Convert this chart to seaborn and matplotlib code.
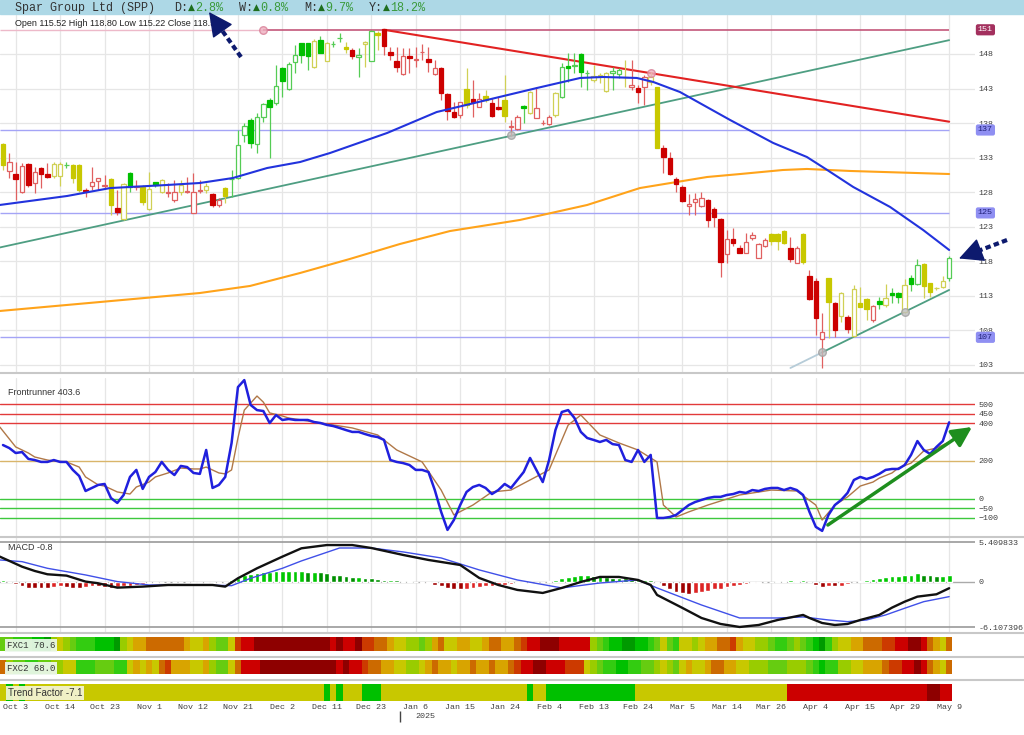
import numpy as np
import matplotlib
matplotlib.use('Agg')
import matplotlib.pyplot as plt
import seaborn as sns
from matplotlib.colors import ListedColormap
from matplotlib.patches import Rectangle
import matplotlib.transforms as mtransforms

# ---------------- DATA ----------------
date_labels = ['Oct 3', 'Oct 14', 'Oct 23', 'Nov 1', 'Nov 12', 'Nov 21', 'Dec 2', 'Dec 11',
               'Dec 23', 'Jan 6', 'Jan 15', 'Jan 24', 'Feb 4', 'Feb 13', 'Feb 24', 'Mar 5',
               'Mar 14', 'Mar 26', 'Apr 4', 'Apr 15', 'Apr 29', 'May 9']
date_label_bars = [2, 9, 16, 23, 30, 37, 44, 51, 58, 65, 72, 79, 86, 93, 100, 107, 114, 121, 128, 135, 142, 149]
year_break_bar = 62.5

open_ = [134.97, 131.12, 130.59, 128.08, 132.03, 129.28, 131.45, 130.63, 130.34, 130.34,
         131.90, 131.94, 131.94, 128.30, 128.94, 129.67, 128.94, 129.86, 125.66, 124.07,
         130.83, 128.80, 128.80, 125.52, 129.43, 128.08, 127.93, 126.87, 128.08, 128.08,
         125.04, 128.22, 128.32, 127.74, 126.15, 128.66, 129.86, 130.01, 136.28, 138.45,
         135.00, 138.93, 141.34, 140.86, 145.93, 142.93, 146.89, 149.54, 149.54, 146.07,
         150.03, 147.03, 149.40, 150.25, 148.96, 148.58, 147.52, 149.45, 147.03, 150.99,
         151.57, 148.34, 147.03, 145.11, 147.71, 147.13, 148.24, 147.28, 145.11, 145.93,
         142.21, 139.65, 139.17, 142.93, 141.44, 140.38, 141.92, 140.96, 140.38, 141.34,
         137.48, 137.10, 140.52, 139.51, 138.79, 137.97, 137.82, 139.17, 141.73, 146.31,
         146.26, 148.00, 145.20, 144.24, 144.82, 142.69, 145.20, 145.11, 144.62, 143.18,
         143.03, 143.18, 143.99, 143.27, 134.35, 132.90, 129.91, 128.80, 125.99, 126.63,
         126.00, 126.87, 125.52, 124.12, 119.02, 121.18, 119.97, 119.25, 121.33, 118.53,
         120.22, 121.90, 121.90, 122.43, 119.97, 117.80, 121.90, 115.92, 115.20, 106.71,
         115.54, 111.92, 110.13, 109.99, 107.19, 112.02, 112.50, 109.51, 112.26, 111.68,
         113.46, 113.46, 110.71, 115.54, 114.72, 117.61, 114.81, 114.09, 114.24, 115.52]
close_ = [131.94, 132.42, 129.86, 131.79, 129.04, 130.88, 130.59, 130.25, 132.08, 132.08,
          131.95, 130.01, 128.32, 128.20, 129.52, 130.01, 128.94, 126.15, 125.18, 129.14,
          128.80, 128.82, 126.63, 128.41, 129.04, 129.77, 127.95, 128.08, 129.04, 128.10,
          128.08, 128.24, 128.90, 126.15, 126.87, 127.50, 129.88, 134.83, 137.58, 135.17,
          138.93, 140.76, 140.28, 143.42, 144.14, 146.50, 147.86, 147.86, 147.71, 149.93,
          148.19, 149.64, 149.50, 150.30, 148.68, 147.76, 147.90, 149.78, 151.38, 150.80,
          149.21, 147.86, 146.07, 147.71, 147.42, 147.15, 148.26, 146.79, 145.93, 142.31,
          139.80, 138.93, 141.01, 140.62, 141.10, 141.49, 141.34, 139.08, 140.09, 139.03,
          137.50, 138.93, 140.23, 142.55, 140.14, 137.99, 138.83, 142.40, 146.17, 146.02,
          146.28, 145.35, 145.22, 144.82, 144.84, 145.30, 145.54, 145.68, 144.64, 143.51,
          142.55, 144.62, 144.72, 134.44, 133.05, 130.64, 129.19, 126.73, 126.24, 126.97,
          127.10, 123.98, 124.46, 117.85, 121.18, 120.60, 119.25, 120.75, 121.81, 120.46,
          121.08, 120.94, 120.94, 120.70, 118.29, 119.88, 117.95, 112.55, 109.75, 107.82,
          112.16, 108.06, 113.37, 108.20, 113.94, 111.44, 111.05, 111.53, 111.82, 112.64,
          113.13, 112.79, 114.57, 114.72, 117.47, 114.43, 113.61, 114.10, 115.20, 118.50]
high_ = [135.07, 133.62, 132.42, 132.18, 132.18, 131.70, 131.70, 132.18, 132.42, 132.42,
         132.42, 132.08, 132.08, 128.56, 131.70, 130.01, 130.49, 130.01, 128.32, 129.28,
         130.97, 129.77, 129.04, 130.97, 129.52, 129.86, 129.28, 129.77, 129.77, 130.25,
         130.83, 129.77, 129.28, 127.84, 127.10, 128.80, 131.20, 137.00, 137.97, 138.69,
         139.41, 140.86, 141.58, 146.41, 146.17, 146.89, 149.30, 149.64, 149.64, 150.12,
         150.60, 149.70, 149.90, 151.09, 149.78, 148.82, 148.82, 149.93, 151.47, 151.38,
         151.57, 149.06, 149.06, 148.82, 148.82, 149.06, 149.45, 149.06, 147.13, 146.17,
         142.31, 141.10, 141.10, 145.93, 144.24, 142.31, 142.79, 141.58, 141.82, 144.96,
         138.45, 139.17, 140.62, 142.69, 143.27, 138.45, 139.17, 142.55, 146.65, 148.10,
         148.10, 148.10, 145.68, 146.41, 145.20, 145.44, 146.17, 145.93, 147.13, 147.13,
         143.51, 144.96, 145.44, 143.27, 134.83, 133.87, 130.15, 129.04, 127.74, 127.84,
         128.08, 126.97, 125.81, 124.22, 122.53, 122.77, 120.36, 122.05, 122.19, 120.70,
         121.33, 122.05, 122.05, 122.53, 121.47, 120.22, 122.05, 116.74, 115.54, 110.57,
         115.63, 112.16, 113.61, 110.23, 114.57, 114.33, 112.64, 111.68, 112.88, 114.72,
         114.09, 113.61, 115.39, 116.02, 118.29, 117.71, 114.91, 114.33, 115.88, 118.80]
low_ = [131.20, 130.01, 126.87, 127.84, 128.80, 127.93, 128.56, 130.01, 130.01, 128.94,
        131.45, 129.28, 128.08, 127.35, 128.32, 128.32, 128.56, 124.70, 124.70, 123.98,
        128.08, 128.32, 126.15, 125.42, 128.80, 127.93, 127.35, 126.63, 127.60, 127.84,
        124.94, 127.84, 127.84, 125.91, 125.91, 126.39, 127.35, 129.86, 135.31, 134.35,
        133.62, 138.21, 132.90, 140.62, 141.82, 142.79, 145.20, 146.75, 145.68, 145.93,
        148.10, 147.03, 149.06, 149.78, 148.10, 147.23, 144.72, 146.17, 147.03, 148.58,
        147.86, 147.13, 145.44, 144.96, 145.20, 146.17, 147.13, 145.44, 144.96, 141.34,
        138.45, 138.69, 138.69, 140.14, 138.93, 140.28, 141.10, 138.93, 139.90, 138.21,
        136.13, 137.00, 137.97, 139.32, 138.69, 137.72, 137.72, 138.93, 141.58, 143.99,
        145.20, 143.27, 142.79, 143.99, 143.75, 142.55, 142.79, 144.48, 143.27, 142.79,
        140.86, 140.62, 143.51, 134.35, 130.73, 130.49, 128.08, 126.63, 124.70, 124.70,
        125.81, 122.92, 123.02, 115.78, 117.80, 120.22, 119.15, 119.15, 121.08, 118.43,
        120.02, 120.36, 119.64, 120.50, 117.95, 117.70, 117.56, 112.40, 107.34, 102.51,
        106.85, 107.09, 109.27, 107.58, 107.00, 111.34, 109.51, 109.27, 111.05, 111.44,
        111.92, 112.02, 110.57, 113.75, 114.57, 112.64, 112.88, 113.85, 114.09, 115.22]
candle_trend = list("yrrrrrrryy" "gyyrrrryry" "gryygyrryr" "rryrrygggg" "gggggggggy"
                    "gyggyrgygy" "rrrrrrrrrr" "rrryrryrry" "rrgyrrrygg" "gggyyyggyr"
                    "rryyrrrrrr" "rrrrrrrrrr" "ryyyrryrrr" "yryryyyrgy" "ggyggyyyyg")

ma_blue_x = [-0.5, 10.1, 16.9, 25.8, 31, 36.2, 41.6, 46.8, 51.5, 60.5, 68.3, 76.2, 84.1, 90.9,
             94.5, 99.8, 102.4, 106.6, 114.5, 121.3, 126.6, 129.8, 133.9, 139.7, 144.9, 149]
ma_blue_y = [126.15, 127.45, 128.6, 129.04, 129.33, 130.05, 131.5, 132.37, 133.67, 136.57, 139.6,
             141.34, 143.08, 144.53, 144.67, 144.53, 143.95, 142.5, 138.45, 135.12, 133.09, 131.21,
             128.75, 125.86, 122.53, 119.64]
ma_orange_x = [-0.5, 15.3, 31, 38.9, 46.8, 54.6, 62.5, 70.4, 81.4, 92, 100.3, 110.9, 116.1, 122.8,
               126.6, 133.4, 149]
ma_orange_y = [110.81, 112.11, 113.41, 114.43, 116.31, 118.33, 120.5, 122.38, 123.98, 126.15,
               128.6, 130.2, 130.63, 131.21, 131.36, 131.07, 130.63]

trend_red_x, trend_red_y = [60, 149], [151.5, 138.2]
trend_green_x, trend_green_y = [-0.5, 149], [120.0, 150.0]
trend_short_pale_x, trend_short_pale_y = [124, 129], [102.56, 104.82]
trend_short_x, trend_short_y = [129, 149], [104.82, 113.85]
levels = [151.5, 137.0, 125.0, 107.0]
level_labels = ['151', '137', '125', '107']
pivot_gray_x, pivot_gray_y = [80, 129, 142], [136.28, 104.87, 110.66]
pivot_pink_x, pivot_pink_y = [41, 102], [151.5, 145.25]
price_ticks = [103, 108, 113, 118, 123, 128, 133, 138, 143, 148]

fr_blue = [284, 268, 242, 247, 211, 205, 195, 195, 205, 195,
           195, 153, 121, 42, 58, 74, 79, 5, -21, 21,
           116, 153, 53, 116, 142, 195, 153, 126, 174, 168,
           137, 132, 258, 58, 74, 116, 295, 589, 626, 495,
           468, 463, 400, 442, 416, 421, 416, 416, 416, 405,
           400, 390, 384, 374, 363, 353, 353, 342, 332, 326,
           311, 205, 195, 189, 179, 153, 153, 142, 47, -68,
           -163, -111, -32, 37, 63, 74, 58, 26, 47, 79,
           58, 100, 142, 216, 153, 89, 205, 363, 458, 468,
           426, 353, 321, 311, 300, 311, 289, 284, 205, 195,
           258, 195, 232, -100, -100, -95, -84, -58, -32, -16,
           -5, 5, 11, 11, 21, 26, 37, 32, 47, 42,
           53, 58, 58, 47, 58, 47, 21, -68, -147, -168,
           -84, -32, -5, 32, 100, 116, 105, 116, 132, 153,
           158, 158, 179, 232, 305, 258, 237, 274, 305, 403.6]
fr_sig_x = [-0.5, 2, 4, 5, 7, 8, 10, 12, 13, 15, 16, 18, 20, 21, 23, 24, 26, 28, 30, 31, 32, 34, 35,
            36, 37, 38, 40, 41, 42, 44, 45, 47, 50, 55, 59, 62, 66, 69, 71, 74, 77, 80, 83, 86, 89,
            91, 94, 97, 100, 103, 104, 106, 108, 111, 116, 121, 125, 128, 129, 131, 133, 135, 137,
            138, 140, 141, 143, 144, 145, 147, 149]
fr_sig_y = [379, 274, 242, 221, 205, 200, 195, 168, 116, 74, 68, 37, 26, 63, 89, 116, 137, 163, 158,
            158, 168, 137, 132, 153, 321, 468, 542, 510, 453, 437, 426, 416, 400, 374, 337, 258, 195,
            47, -84, -32, 37, 47, 100, 153, 389, 442, 337, 295, 258, 195, -32, -95, -68, -32, 21, 47,
            42, -32, -111, -32, 11, 68, 89, 110, 137, 163, 189, 221, 253, 268, 300]
fr_levels = [500, 450, 400, 200, 0, -50, -100]
fr_level_colors = ['#E23A3A', '#E23A3A', '#E23A3A', '#D9B56A', '#3DC83D', '#3DC83D', '#3DC83D']
fr_tick_labels = ['500', '450', '400', '200', '0', '\u221250', '\u2212100']
fr_arrow_x, fr_arrow_y = [129.9, 152.6], [-137, 379]

macd_x = [-0.5, 1, 3, 5, 7, 10, 13, 15, 18, 22, 26, 33, 35, 37, 40, 44, 47, 51, 55, 58, 63, 67, 72,
          75, 78, 81, 85, 88, 91, 94, 97, 100, 102, 103, 107, 110, 113, 116, 119, 122, 126, 127,
          129, 131, 133, 135, 138, 140, 142, 144, 147, 149]
macd_y = [3.43, 2.85, 2.07, 1.49, 1.04, 0.86, 0.05, -0.18, -0.77, -0.63, -0.41, -0.41, -0.63, 0.5,
          1.85, 3.43, 4.56, 5.0, 5.0, 4.6, 3.66, 2.98, 2.3, 0.54, -0.41, -1.08, -1.49, -0.81, 0.0,
          0.68, 0.68, 0.27, -0.41, -1.76, -3.52, -4.88, -5.69, -6.1, -5.83, -5.15, -4.47, -4.88,
          -5.56, -5.83, -5.69, -5.15, -4.47, -3.48, -2.67, -1.99, -1.67, -0.85]
signal_x = [-0.5, 3, 7, 13, 18, 23, 31, 36, 39, 44, 47, 53, 58, 63, 69, 75, 81, 88, 94, 100, 103,
            110, 116, 122, 126, 130, 133, 136, 139, 142, 145, 149]
signal_y = [2.98, 2.75, 1.85, 0.95, 0.05, -0.41, -0.41, -0.5, 0.5, 1.85, 2.85, 4.6, 4.6, 4.07, 3.25,
            1.63, 0.27, -0.81, -0.14, 0.27, -0.81, -3.12, -4.88, -4.88, -4.74, -5.15, -5.38, -5.15,
            -4.47, -3.56, -2.67, -1.99]
macd_hist = [0.3, 0.0, -0.3, -0.5, -0.8, -0.8, -0.8, -0.8, -0.7, -0.6,
             -0.7, -0.8, -0.8, -0.7, -0.6, -0.6, -0.7, -0.8, -0.7, -0.6,
             -0.5, -0.4, -0.3, -0.2, -0.1, -0.05, -0.05, -0.05, -0.05, -0.05,
             -0.1, -0.15, -0.2, -0.2, -0.15, -0.05, 0.3, 0.6, 0.9, 1.1,
             1.2, 1.3, 1.4, 1.5, 1.5, 1.5, 1.5, 1.5, 1.4, 1.4,
             1.3, 1.2, 1.0, 0.9, 0.8, 0.7, 0.7, 0.6, 0.5, 0.4,
             0.3, 0.3, 0.2, 0.15, 0.1, 0.05, -0.1, -0.2, -0.4, -0.6,
             -0.8, -0.9, -1.0, -0.9, -0.8, -0.7, -0.6, -0.5, -0.4, -0.35,
             -0.3, -0.2, -0.15, -0.1, -0.05, 0.0, 0.1, 0.3, 0.5, 0.7,
             0.8, 0.9, 0.9, 0.8, 0.8, 0.7, 0.6, 0.6, 0.5, 0.4,
             0.3, 0.3, 0.2, -0.2, -0.6, -1.0, -1.3, -1.5, -1.6, -1.5,
             -1.4, -1.2, -1.0, -0.9, -0.7, -0.5, -0.4, -0.3, -0.2, -0.1,
             -0.05, 0.05, 0.1, 0.15, 0.2, 0.15, 0.2, 0.0, -0.4, -0.7,
             -0.5, -0.6, -0.5, -0.3, 0.0, 0.15, 0.3, 0.45, 0.55, 0.7,
             0.85, 0.85, 0.9, 1.0, 1.2, 1.0, 0.9, 0.85, 0.85, 0.9]
macd_ticks = [5.409833, 0, -6.107396]
macd_tick_labels = ['5.409833', '0', '-6.107396']

# strip levels: 0 dark green ... 5 yellow ... 10 dark red
fxc1 = [3, 3, 2, 2, 2, 1, 1, 0, 4, 5,
        4, 3, 2, 2, 2, 1, 1, 1, 0, 4,
        5, 6, 6, 7, 7, 7, 7, 7, 7, 6,
        5, 5, 6, 4, 3, 3, 5, 8, 9, 9,
        10, 10, 10, 10, 10, 10, 10, 10, 10, 10,
        10, 10, 9, 10, 9, 9, 10, 8, 8, 7,
        7, 6, 5, 5, 4, 4, 3, 4, 6, 7,
        5, 5, 6, 6, 5, 5, 6, 7, 7, 6,
        6, 7, 8, 9, 9, 10, 10, 10, 9, 9,
        9, 9, 9, 4, 3, 2, 1, 1, 0, 0,
        1, 1, 2, 3, 5, 3, 2, 5, 5, 4,
        5, 6, 6, 7, 7, 8, 6, 5, 5, 4,
        4, 3, 2, 2, 3, 4, 3, 2, 1, 0,
        2, 4, 5, 5, 6, 6, 7, 7, 7, 8,
        8, 9, 9, 10, 10, 9, 7, 6, 5, 7]
fxc2 = [7, 4, 3, 3, 2, 2, 3, 3, 4, 4,
        5, 5, 2, 2, 2, 3, 3, 3, 2, 2,
        5, 6, 5, 6, 5, 7, 8, 6, 6, 6,
        5, 5, 6, 4, 3, 3, 5, 7, 9, 9,
        9, 10, 10, 10, 10, 10, 10, 10, 10, 10,
        10, 10, 10, 9, 10, 9, 9, 8, 7, 7,
        6, 6, 5, 5, 4, 4, 5, 6, 7, 6,
        6, 5, 6, 6, 7, 6, 6, 7, 6, 6,
        7, 8, 9, 9, 10, 10, 9, 9, 9, 8,
        8, 8, 5, 4, 3, 2, 2, 1, 1, 2,
        2, 3, 3, 4, 5, 4, 3, 5, 6, 5,
        5, 6, 7, 7, 6, 6, 5, 5, 4, 4,
        4, 3, 3, 3, 4, 4, 4, 3, 2, 1,
        2, 2, 4, 4, 5, 5, 6, 6, 6, 7,
        8, 8, 9, 9, 10, 9, 7, 6, 5, 7]
trend_factor = [5, 1, 5, 1, 5, 5, 5, 5, 5, 5,
                5, 5, 5, 5, 5, 5, 5, 5, 5, 5,
                5, 5, 5, 5, 5, 5, 5, 5, 5, 5,
                5, 5, 5, 5, 5, 5, 5, 5, 5, 5,
                5, 5, 5, 5, 5, 5, 5, 5, 5, 5,
                5, 1, 5, 1, 5, 5, 5, 1, 1, 1,
                5, 5, 5, 5, 5, 5, 5, 5, 5, 5,
                5, 5, 5, 5, 5, 5, 5, 5, 5, 5,
                5, 5, 5, 1, 5, 5, 1, 1, 1, 1,
                1, 1, 1, 1, 1, 1, 1, 1, 1, 1,
                5, 5, 5, 5, 5, 5, 5, 5, 5, 5,
                5, 5, 5, 5, 5, 5, 5, 5, 5, 5,
                5, 5, 5, 5, 9, 9, 9, 9, 9, 9,
                9, 9, 9, 9, 9, 9, 9, 9, 9, 9,
                9, 9, 9, 9, 9, 9, 10, 10, 9, 9]
strip_palette = ['#009A00', '#00C000', '#33CC11', '#66CC11', '#99CC00', '#C8C800',
                 '#D8A400', '#CC6A00', '#CC3A00', '#CC0000', '#8E0000']

title_name = 'Spar Group Ltd (SPP)'
period_labels = ['D:', 'W:', 'M:', 'Y:']
period_changes = ['2.8%', '0.8%', '9.7%', '18.2%']
ohlc_text = 'Open 115.52  High 118.80  Low 115.22  Close 118.50'

# ---------------- STYLE / LAYOUT ----------------
sns.set_style('white')
plt.rcParams['font.family'] = ['Liberation Sans', 'DejaVu Sans']
MONO = ['Liberation Mono', 'DejaVu Sans Mono']
TXT = '#404040'
W, H = 1024, 735
XL = (-0.47, 153.07)

fig = plt.figure(figsize=(10.24, 7.35), dpi=100)
fig.patch.set_facecolor('white')


def add_px(top, bottom, left=0, right=975):
    return fig.add_axes([left / W, 1 - bottom / H, (right - left) / W, (bottom - top) / H])


ax = add_px(15, 372)
axf = add_px(378, 536)
axm = add_px(537, 632)
ax1 = add_px(637, 651)
ax2 = add_px(660, 674)
ax3 = add_px(684, 701)

for a in [ax, axf, axm, ax1, ax2, ax3]:
    a.set_xlim(*XL)
    for s in a.spines.values():
        s.set_visible(False)
    a.set_facecolor('white')

for a in [ax, axf, axm]:
    a.set_xticks(date_label_bars)
    a.tick_params(axis='x', length=0, labelbottom=False)
    a.xaxis.grid(True, color='#E6E6E6', lw=0.9)
    a.set_axisbelow(True)
    a.yaxis.tick_right()
    a.tick_params(axis='y', length=0, pad=2.5, labelsize=6, labelcolor=TXT)

# ---------------- MAIN PRICE PANEL ----------------
ax.set_ylim(101.98, 153.64)
ax.set_yticks(price_ticks)
ax.set_yticklabels([str(t) for t in price_ticks], family=MONO)
ax.yaxis.grid(True, color='#E6E6E6', lw=0.9)

idx = np.arange(len(open_))
o = np.array(open_); c = np.array(close_); hi = np.array(high_); lo = np.array(low_)
FILL = {'g': '#00BF00', 'y': '#C8C800', 'r': '#CC0000'}
LINE = {'g': '#55CC55', 'y': '#D0D055', 'r': '#E06060'}
up = c >= o
faces = ['white' if u else FILL[t] for u, t in zip(up, candle_trend)]
edges = [LINE[t] if u else FILL[t] for u, t in zip(up, candle_trend)]
wicks = [LINE[t] for t in candle_trend]

ax.hlines(levels[0], -0.47, 41, color='#EDB9C9', lw=1.0, zorder=1.5)
ax.hlines(levels[0], 41, 149, color='#C4577A', lw=1.2, zorder=1.5)
for lv in levels[1:]:
    ax.hlines(lv, -0.47, 149, color='#A4A4F6', lw=1.0, zorder=1.5)

sns.lineplot(x=ma_orange_x, y=ma_orange_y, ax=ax, color='#FFA31A', lw=1.5, legend=False, zorder=2)
sns.lineplot(x=trend_green_x, y=trend_green_y, ax=ax, color='#4E9E82', lw=1.3, legend=False, zorder=2)
sns.lineplot(x=trend_short_pale_x, y=trend_short_pale_y, ax=ax, color='#B6CCD8', lw=1.3, legend=False, zorder=2)
sns.lineplot(x=trend_short_x, y=trend_short_y, ax=ax, color='#4E9E82', lw=1.3, legend=False, zorder=2)
sns.lineplot(x=trend_red_x, y=trend_red_y, ax=ax, color='#E22222', lw=1.5, legend=False, zorder=2)

ax.vlines(idx, lo, hi, colors=wicks, lw=0.9, zorder=3)
ax.bar(idx, np.maximum(np.abs(c - o), 0.08), bottom=np.minimum(o, c), width=0.7,
       color=faces, edgecolor=edges, linewidth=0.9, zorder=4)

sns.lineplot(x=ma_blue_x, y=ma_blue_y, ax=ax, color='#2233DD', lw=1.5, legend=False, zorder=5)

ax.scatter(pivot_gray_x, pivot_gray_y, s=30, color='#BDBDBD', edgecolor='#A0A0A0', alpha=0.8, zorder=6)
ax.scatter(pivot_pink_x, pivot_pink_y, s=30, color='#EEB0C0', edgecolor='#D88098', alpha=0.8, zorder=6)

btrans = mtransforms.blended_transform_factory(ax.transAxes, ax.transData)
for lv, lab in zip(levels, level_labels):
    dark = lab == '151'
    ax.text(1.003, lv, lab, transform=btrans, ha='left', va='center', family=MONO, fontsize=6,
            color='white' if dark else '#22227A', zorder=10,
            bbox=dict(boxstyle='round,pad=0.25', fc='#A3305E' if dark else '#8F8FF2', ec='none'))
ax.set_xlabel(''); ax.set_ylabel('')

# ---------------- FRONTRUNNER PANEL ----------------
axf.set_ylim(-195, 637)
axf.set_yticks(fr_levels)
axf.set_yticklabels(fr_tick_labels, family=MONO)
for lv, col in zip(fr_levels, fr_level_colors):
    axf.axhline(lv, color=col, lw=1.0, zorder=1)
sns.lineplot(x=fr_sig_x, y=fr_sig_y, ax=axf, color='#B07848', lw=1.0, legend=False, zorder=3)
sns.lineplot(x=idx, y=fr_blue, ax=axf, color='#2020DD', lw=1.8, legend=False, zorder=4)
axf.annotate('', xy=(fr_arrow_x[1], fr_arrow_y[1]), xytext=(fr_arrow_x[0], fr_arrow_y[0]),
             arrowprops=dict(arrowstyle='-|>,head_length=0.6,head_width=0.3', color='#1E8E1E',
                             lw=2.5, mutation_scale=20, shrinkA=0, shrinkB=0),
             annotation_clip=False, zorder=6)
axf.set_xlabel(''); axf.set_ylabel('')

# ---------------- MACD PANEL ----------------
axm.set_ylim(-6.78, 6.09)
axm.set_yticks(macd_ticks)
axm.set_yticklabels(macd_tick_labels, family=MONO)
axm.axhline(macd_ticks[0], color='#9A9A9A', lw=1.2, zorder=1)
axm.axhline(0, color='#AAAAAA', lw=1.0, zorder=1)
axm.axhline(macd_ticks[2], color='#9A9A9A', lw=1.2, zorder=1)
hist = np.array(macd_hist)
prev = np.concatenate([[0.0], hist[:-1]])
hcols = []
for v, p in zip(hist, prev):
    if v >= 0:
        hcols.append('#00C800' if v >= p else '#009000')
    else:
        hcols.append('#A00000' if v <= p else '#DD2525')
axm.bar(idx, hist, width=0.75, color=hcols, zorder=2)
sns.lineplot(x=signal_x, y=signal_y, ax=axm, color='#4050E8', lw=1.0, legend=False, zorder=3)
sns.lineplot(x=macd_x, y=macd_y, ax=axm, color='#111111', lw=1.7, legend=False, zorder=4)
axm.set_xlabel(''); axm.set_ylabel('')

# ---------------- STRIPS ----------------
cmap = ListedColormap(strip_palette)
xedges = np.arange(len(fxc1) + 1) - 0.5
for a, lv in [(ax1, fxc1), (ax2, fxc2), (ax3, trend_factor)]:
    a.pcolormesh(xedges, [0, 1], np.array([lv]), cmap=cmap, vmin=-0.5, vmax=10.5, shading='flat')
    a.set_ylim(0, 1)
    a.set_yticks([])
    a.set_xticks([])
ax3.set_xticks(date_label_bars)
ax3.set_xticklabels(date_labels, family=MONO, fontsize=6, color=TXT)
ax3.tick_params(axis='x', length=0, pad=2)

# ---------------- OVERLAY (title bar, labels, arrows) ----------------
ov = fig.add_axes([0, 0, 1, 1], zorder=20)
ov.set_xlim(0, W); ov.set_ylim(H, 0); ov.axis('off'); ov.patch.set_alpha(0)
ov.add_patch(Rectangle((0, 0), W, 14, color='#ADD8E6', zorder=1))
ov.text(15, 7.5, title_name, family=MONO, fontsize=8.5, color='#333333', va='center', ha='left')
for xp, lab, chg in zip([174, 239, 304, 369], period_labels, period_changes):
    ov.text(xp, 7.5, lab, family=MONO, fontsize=8.5, color='#333333', va='center', ha='left')
    ov.text(xp + 14, 7.5, '\u25b2', family=['DejaVu Sans'], fontsize=6.5, color='#1E6E1E',
            va='center', ha='left')
    ov.text(xp + 21, 7.5, chg, family=MONO, fontsize=8.5, color='#3A9A3A', va='center', ha='left')
ov.text(15, 23, ohlc_text.replace('  ', ' '), fontsize=6.5, color='#222222', va='center', ha='left')
ov.text(8, 392, 'Frontrunner 403.6', fontsize=6.5, color='#333333', va='center', ha='left')
ov.text(8, 548, 'MACD -0.8', fontsize=6.5, color='#333333', va='center', ha='left')
ov.hlines([373, 537, 633, 656.5, 680], 0, W, colors='#C8C8C8', lw=1.5)

ov.text(7, 645.5, 'FXC1 70.6', family=MONO, fontsize=6.5, color='#333333', va='center', ha='left',
        bbox=dict(boxstyle='square,pad=0.2', fc='#EEF8EE', ec='none', alpha=0.92))
ov.text(7, 668.5, 'FXC2 68.0', family=MONO, fontsize=6.5, color='#333333', va='center', ha='left',
        bbox=dict(boxstyle='square,pad=0.2', fc='#EEF8EE', ec='none', alpha=0.92))
ov.text(8, 693, 'Trend Factor -7.1', fontsize=7, color='#333333', va='center', ha='left',
        bbox=dict(boxstyle='square,pad=0.2', fc='#F3F3D2', ec='none', alpha=0.95))

ov.text(425, 717, '2025', family=MONO, fontsize=6, color=TXT, va='center', ha='center')
ov.vlines(400, 711, 722, colors='#444444', lw=1)

NAVY = '#0D1A6E'
ov.plot([241, 221], [57, 29], color=NAVY, lw=3, ls=(0, (1.3, 0.8)), solid_capstyle='butt', zorder=30)
ov.annotate('', xy=(209, 12), xytext=(221.5, 29.5),
            arrowprops=dict(arrowstyle='-|>,head_length=0.7,head_width=0.35', color=NAVY, lw=1,
                            mutation_scale=22, shrinkA=0, shrinkB=0), zorder=31)
ov.plot([1007, 978], [240, 251], color=NAVY, lw=3, ls=(0, (1.3, 0.8)), solid_capstyle='butt', zorder=30)
ov.annotate('', xy=(959, 258.5), xytext=(979, 250.7),
            arrowprops=dict(arrowstyle='-|>,head_length=0.7,head_width=0.35', color=NAVY, lw=1,
                            mutation_scale=22, shrinkA=0, shrinkB=0), zorder=31)

fig.savefig('out.png', dpi=100, facecolor='white')
